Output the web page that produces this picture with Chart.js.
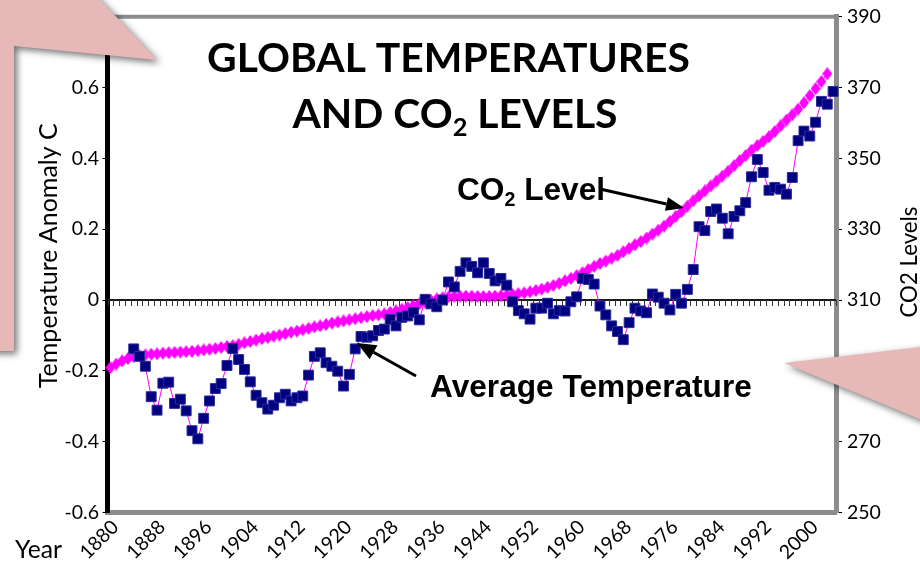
<!DOCTYPE html>
<html>
<head>
<meta charset="utf-8">
<style>
html,body{margin:0;padding:0;background:#fff;}
#wrap{width:920px;height:565px;position:relative;overflow:hidden;}
canvas{display:block;}
</style>
<script src="https://cdn.jsdelivr.net/npm/chart.js@4.4.1/dist/chart.umd.min.js"></script>
</head>
<body>
<div id="wrap"><canvas id="c" width="920" height="565"></canvas></div>
<script>
// ---------------- data ----------------
const years = [
  1880,1881,1882,1883,1884,1885,1886,1887,1888,1889,
  1890,1891,1892,1893,1894,1895,1896,1897,1898,1899,
  1900,1901,1902,1903,1904,1905,1906,1907,1908,1909,
  1910,1911,1912,1913,1914,1915,1916,1917,1918,1919,
  1920,1921,1922,1923,1924,1925,1926,1927,1928,1929,
  1930,1931,1932,1933,1934,1935,1936,1937,1938,1939,
  1940,1941,1942,1943,1944,1945,1946,1947,1948,1949,
  1950,1951,1952,1953,1954,1955,1956,1957,1958,1959,
  1960,1961,1962,1963,1964,1965,1966,1967,1968,1969,
  1970,1971,1972,1973,1974,1975,1976,1977,1978,1979,
  1980,1981,1982,1983,1984,1985,1986,1987,1988,1989,
  1990,1991,1992,1993,1994,1995,1996,1997,1998,1999,
  2000,2001,2002,2003,2004
];
const yearTickLabels = [1880,1888,1896,1904,1912,1920,1928,1936,1944,1952,1960,1968,1976,1984,1992,2000];

// Temperature anomaly (deg C), left axis
const tempAnomaly = [
  null,null,null,null,-0.138,-0.159,-0.187,-0.273,-0.311,-0.235,
  -0.232,-0.292,-0.280,-0.313,-0.369,-0.392,-0.334,-0.285,-0.250,-0.236,
  -0.185,-0.137,-0.168,-0.196,-0.231,-0.269,-0.290,-0.308,-0.297,-0.276,
  -0.266,-0.285,-0.276,-0.271,-0.212,-0.159,-0.149,-0.177,-0.187,-0.201,
  -0.243,-0.210,-0.138,-0.103,-0.105,-0.101,-0.086,-0.082,-0.055,-0.073,
  -0.049,-0.045,-0.035,-0.056,0.002,-0.011,-0.019,0.000,0.051,0.037,
  0.081,0.105,0.095,0.077,0.105,0.075,0.054,0.061,0.042,-0.005,
  -0.030,-0.039,-0.054,-0.023,-0.023,-0.009,-0.039,-0.030,-0.031,-0.005,
  0.009,0.061,0.058,0.045,-0.017,-0.042,-0.073,-0.089,-0.112,-0.064,
  -0.023,-0.031,-0.036,0.017,0.008,-0.009,-0.028,0.016,-0.009,0.030,
  0.086,0.207,0.196,0.250,0.257,0.231,0.187,0.236,0.252,0.275,
  0.348,0.397,0.360,0.310,0.318,0.313,0.299,0.346,0.450,0.477,
  0.463,0.502,0.561,0.553,0.589
];

// CO2 level (ppm), right axis
const co2Level = [
  290.9,291.9,292.8,293.5,294.0,294.3,294.5,294.7,294.8,295.0,
  295.1,295.2,295.3,295.4,295.5,295.7,295.9,296.1,296.3,296.6,
  296.9,297.1,297.5,297.9,298.3,298.7,299.1,299.4,299.8,300.1,
  300.5,300.9,301.2,301.6,302.0,302.4,302.7,303.1,303.5,303.8,
  304.1,304.4,304.7,305.0,305.3,305.6,305.8,306.1,306.5,306.9,
  307.4,307.9,308.4,308.9,309.4,309.9,310.3,310.6,310.9,311.0,
  311.1,311.1,311.1,311.0,311.0,311.0,311.1,311.2,311.4,311.6,
  311.8,312.0,312.3,312.7,313.1,313.6,314.1,314.7,315.4,316.1,
  316.9,317.7,318.6,319.5,320.3,321.0,321.8,322.6,323.6,324.6,
  325.6,326.5,327.5,328.6,329.7,330.9,332.2,333.6,335.0,336.5,
  338.0,339.4,340.8,342.2,343.6,345.0,346.4,347.9,349.4,350.8,
  352.3,353.6,354.8,356.1,357.6,359.2,360.8,362.3,363.9,365.7,
  367.7,369.7,371.7,373.9,null
];

const tempTicks = [-0.6,-0.4,-0.2,0,0.2,0.4,0.6,0.8];
const co2Ticks = [250,270,290,310,330,350,370,390];

// ---------------- fonts / sizing ----------------
const CAL = 'Lato, "Open Sans", sans-serif';
const ARL = '"Liberation Sans", Arial, sans-serif';
const mc = document.createElement('canvas').getContext('2d');
function fitSize(text, weight, family, target) {
  mc.font = weight + ' 100px ' + family;
  return 100 * target / mc.measureText(text).width;
}
const tickSize = (fitSize('390', 'normal', CAL, 33) + fitSize('0.6', 'normal', CAL, 28)) / 2;
const titleSize = fitSize('GLOBAL TEMPERATURES', 'bold', CAL, 483);
const annSize = fitSize('Average Temperature', 'bold', ARL, 322);
const yTitleSize = fitSize('Temperature Anomaly C', 'normal', CAL, 265);
const co2TitleSize = fitSize('CO2 Levels', 'normal', CAL, 111);
const yearSize = fitSize('Year', 'normal', CAL, 47);

// diamond marker for the CO2 series (slightly taller than wide)
const diamond = document.createElement('canvas');
diamond.width = 10; diamond.height = 13;
(function () {
  const d = diamond.getContext('2d');
  d.fillStyle = '#FF00FF';
  d.beginPath(); d.moveTo(5, 0); d.lineTo(10, 6.5); d.lineTo(5, 13); d.lineTo(0, 6.5); d.closePath(); d.fill();
})();

function drawRich(ctx, parts, x, baseline, size, weight, family, align) {
  let w = 0;
  for (const p of parts) {
    ctx.font = weight + ' ' + (p.sub ? size * 0.62 : size) + 'px ' + family;
    w += ctx.measureText(p.t).width;
  }
  let cx = align === 'center' ? x - w / 2 : x;
  ctx.textAlign = 'left';
  ctx.textBaseline = 'alphabetic';
  for (const p of parts) {
    ctx.font = weight + ' ' + (p.sub ? size * 0.62 : size) + 'px ' + family;
    ctx.fillText(p.t, cx, baseline + (p.sub ? size * 0.2 : 0));
    cx += ctx.measureText(p.t).width;
  }
}

function arrow(ctx, x1, y1, x2, y2, head, hw) {
  const a = Math.atan2(y2 - y1, x2 - x1);
  const bx = x2 - head * Math.cos(a), by = y2 - head * Math.sin(a);
  ctx.lineWidth = 3;
  ctx.beginPath(); ctx.moveTo(x1, y1); ctx.lineTo(bx, by); ctx.stroke();
  ctx.beginPath();
  ctx.moveTo(x2, y2);
  ctx.lineTo(bx + hw * Math.sin(a), by - hw * Math.cos(a));
  ctx.lineTo(bx - hw * Math.sin(a), by + hw * Math.cos(a));
  ctx.closePath(); ctx.fill();
}

const decor = {
  id: 'decor',
  beforeDraw(chart) {
    const ctx = chart.ctx;
    ctx.save(); ctx.fillStyle = '#fff'; ctx.fillRect(0, 0, chart.width, chart.height); ctx.restore();
  },
  beforeDatasetsDraw(chart) {
    const {ctx, chartArea: ca, scales: {x, yT}} = chart;
    ctx.save();
    // top border of plot area
    ctx.strokeStyle = '#8c8c8c'; ctx.lineWidth = 4;
    ctx.beginPath(); ctx.moveTo(ca.left, ca.top); ctx.lineTo(ca.right + 2.5, ca.top); ctx.stroke();
    // zero line with yearly tick marks
    const y0 = Math.round(yT.getPixelForValue(0));
    ctx.strokeStyle = '#1a1a1a'; ctx.lineWidth = 2;
    ctx.beginPath(); ctx.moveTo(ca.left, y0); ctx.lineTo(ca.right, y0); ctx.stroke();
    ctx.strokeStyle = '#333'; ctx.lineWidth = 1;
    ctx.beginPath();
    for (let i = 0; i <= years.length; i++) {
      const xp = Math.round(x.getPixelForValue(i - 0.5)) + 0.5;
      ctx.moveTo(xp, y0); ctx.lineTo(xp, y0 + 6);
    }
    ctx.stroke();
    ctx.restore();
  },
  afterDraw(chart) {
    const ctx = chart.ctx;
    ctx.save();
    ctx.fillStyle = '#000'; ctx.strokeStyle = '#000';
    // title
    drawRich(ctx, [{t: 'GLOBAL TEMPERATURES'}], 448.5, 72, titleSize, 'bold', CAL, 'center');
    drawRich(ctx, [{t: 'AND CO'}, {t: '2', sub: true}, {t: ' LEVELS'}], 455, 128, titleSize, 'bold', CAL, 'center');
    // annotations
    drawRich(ctx, [{t: 'CO'}, {t: '2', sub: true}, {t: ' Level'}], 457, 200, annSize, 'bold', ARL, 'left');
    drawRich(ctx, [{t: 'Average Temperature'}], 430, 396.5, annSize, 'bold', ARL, 'left');
    arrow(ctx, 600, 189, 684, 208, 18, 7);
    arrow(ctx, 416, 376, 357, 343, 19, 8);
    // axis titles
    ctx.font = 'normal ' + yTitleSize + 'px ' + CAL;
    ctx.textAlign = 'center'; ctx.textBaseline = 'alphabetic';
    ctx.save(); ctx.translate(56.7, 255.7); ctx.rotate(-Math.PI / 2); ctx.fillText('Temperature Anomaly C', 0, 0); ctx.restore();
    ctx.font = 'normal ' + co2TitleSize + 'px ' + CAL;
    ctx.save(); ctx.translate(916.5, 262); ctx.rotate(-Math.PI / 2); ctx.fillText('CO2 Levels', 0, 0); ctx.restore();
    ctx.font = 'normal ' + yearSize + 'px ' + CAL;
    ctx.textAlign = 'left';
    ctx.fillText('Year', 15, 558.3);
    // decorative pink callout shapes
    ctx.fillStyle = '#E6B9B8';
    ctx.shadowColor = 'rgba(0,0,0,0.55)';
    ctx.shadowBlur = 7; ctx.shadowOffsetX = 3; ctx.shadowOffsetY = 3;
    ctx.beginPath();
    ctx.moveTo(-30, -30); ctx.lineTo(72, -30); ctx.lineTo(157, 60); ctx.lineTo(14, 46);
    ctx.lineTo(14, 351); ctx.lineTo(-30, 351); ctx.closePath(); ctx.fill();
    ctx.beginPath();
    ctx.moveTo(784, 363); ctx.lineTo(980, 340); ctx.lineTo(980, 444); ctx.closePath(); ctx.fill();
    ctx.restore();
  }
};

new Chart(document.getElementById('c'), {
  type: 'line',
  data: {
    labels: years,
    datasets: [
      {
        label: 'Average Temperature', data: tempAnomaly, yAxisID: 'yT',
        borderColor: '#FF00FF', borderWidth: 1, backgroundColor: '#000080',
        pointStyle: 'rect', pointRadius: 7, pointBackgroundColor: '#000080',
        pointBorderColor: '#2b2b9c', pointBorderWidth: 1, tension: 0, clip: false
      },
      {
        label: 'CO2 Level', data: co2Level, yAxisID: 'yC',
        borderColor: '#FF00FF', borderWidth: 1, backgroundColor: '#FF00FF',
        pointStyle: diamond, pointRadius: 6, tension: 0, clip: false
      }
    ]
  },
  options: {
    responsive: false, animation: false, events: [],
    layout: {padding: {top: 15, left: 0, right: 0, bottom: 0}},
    plugins: {legend: {display: false}, title: {display: false}, tooltip: {enabled: false}},
    scales: {
      x: {
        type: 'category', offset: true, position: 'bottom',
        grid: {display: false, drawTicks: false},
        border: {display: true, color: '#8c8c8c', width: 5},
        ticks: {autoSkip: false, maxRotation: 45, minRotation: 45, padding: 3, labelOffset: 5,
                color: '#000', font: {family: CAL, size: tickSize}},
        afterBuildTicks: s => { s.ticks = s.ticks.filter(t => yearTickLabels.includes(years[t.value])); },
        afterFit: s => { s.height = 52.5; }
      },
      yT: {
        type: 'linear', position: 'left', min: -0.6, max: 0.8, z: 1,
        afterBuildTicks: s => { s.ticks = tempTicks.map(v => ({value: v})); },
        grid: {drawOnChartArea: false, drawTicks: true, tickLength: 5, color: '#000', lineWidth: 1},
        border: {display: true, color: '#000', width: 5},
        ticks: {padding: 3.5, color: '#000', font: {family: CAL, size: tickSize}, callback: v => String(v)},
        afterFit: s => { s.width = 107.5; }
      },
      yC: {
        type: 'linear', position: 'right', min: 250, max: 390, z: 1,
        afterBuildTicks: s => { s.ticks = co2Ticks.map(v => ({value: v})); },
        grid: {drawOnChartArea: false, drawTicks: true, tickLength: 6, color: '#000', lineWidth: 1},
        border: {display: true, color: '#8c8c8c', width: 5},
        ticks: {padding: 5, color: '#000', font: {family: CAL, size: tickSize}, callback: v => String(v)},
        afterFit: s => { s.width = 84; }
      }
    }
  },
  plugins: [decor]
});
</script>
</body>
</html>
